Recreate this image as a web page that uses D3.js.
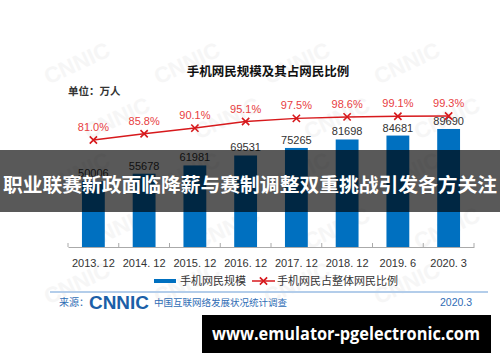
<!DOCTYPE html>
<html>
<head>
<meta charset="utf-8">
<script src="https://cdn.jsdelivr.net/npm/d3@7"></script>
<style>
  body { margin: 0; background: #fff; }
  svg { display: block; }
  text { font-family: "Liberation Sans", Arial, "Noto Sans CJK SC", sans-serif; }
  .cjk { font-family: "Noto Sans CJK SC", "Liberation Sans", sans-serif; }
</style>
</head>
<body>
<script>
// chart data
var periods = ["2013. 12", "2014. 12", "2015. 12", "2016. 12", "2017. 12", "2018. 12", "2019. 6", "2020. 3"];
var mobileUsers = [50006, 55678, 61981, 69531, 75265, 81698, 84681, 89690];
var mobileShare = [81.0, 85.8, 90.1, 95.1, 97.5, 98.6, 99.1, 99.3];

var width = 500, height = 362;
var baseY = 247;

var svg = d3.select("body").append("svg")
    .attr("width", width)
    .attr("height", height);

svg.append("rect").attr("width", width).attr("height", height).attr("fill", "#fff");

// faint CNNIC watermarks in the background
var marks = [];
for (var r = 0; r < 5; r++) {
  for (var c = 0; c < 4; c++) {
    marks.push([80 + c * 110 + (r % 2) * 40, 70 + r * 55]);
  }
}
svg.append("g").selectAll("text")
  .data(marks)
  .enter().append("text")
    .attr("transform", function(d) { return "translate(" + d[0] + "," + d[1] + ") rotate(-25)"; })
    .attr("text-anchor", "middle")
    .style("font-size", "22px")
    .style("font-weight", "bold")
    .style("fill", "#f6f6f6")
    .text("CNNIC");

// scales
var x = d3.scaleBand()
    .domain(periods)
    .range([68, 474])
    .paddingInner(0.55)
    .paddingOuter(0.275);

var y = d3.scaleLinear().domain([0, 100000]).range([baseY, baseY - 131.6]);
var yp = d3.scaleLinear().domain([80, 100]).range([141.3, 115.1]);

// title
svg.append("text")
    .attr("class", "cjk")
    .attr("x", 268).attr("y", 75.5)
    .attr("text-anchor", "middle")
    .style("font-size", "12.5px")
    .style("font-weight", "bold")
    .style("fill", "#111")
    .text("手机网民规模及其占网民比例");

svg.append("text")
    .attr("class", "cjk")
    .attr("x", 68).attr("y", 95)
    .style("font-size", "10.5px")
    .style("font-weight", "600")
    .style("fill", "#333")
    .text("单位：万人");

// bars
svg.append("g").selectAll("rect")
  .data(mobileUsers)
  .enter().append("rect")
    .attr("x", function(d, i) { return x(periods[i]); })
    .attr("y", function(d) { return y(d); })
    .attr("width", x.bandwidth())
    .attr("height", function(d) { return baseY - y(d); })
    .attr("fill", "#0070c0");

// bar values
svg.append("g").selectAll("text")
  .data(mobileUsers)
  .enter().append("text")
    .attr("x", function(d, i) { return x(periods[i]) + x.bandwidth() / 2; })
    .attr("y", function(d) { return y(d) - 4; })
    .attr("text-anchor", "middle")
    .style("font-size", "11px")
    .style("fill", "#333")
    .text(function(d) { return d; });

// x axis
var xAxis = svg.append("g")
    .attr("transform", "translate(0," + baseY + ")")
    .call(d3.axisBottom(x).tickSize(0).tickPadding(12));
xAxis.select(".domain").attr("stroke", "#aaa");
xAxis.selectAll("text")
    .style("font-size", "11px")
    .style("fill", "#333")
    .style("font-family", "Liberation Sans, Arial, sans-serif");

// boundary ticks between categories
var step = x.step();
var bounds = d3.range(periods.length + 1).map(function(i) { return x.range()[0] + i * step; });
svg.append("g").selectAll("line")
  .data(bounds)
  .enter().append("line")
    .attr("x1", function(d) { return d; })
    .attr("x2", function(d) { return d; })
    .attr("y1", baseY - 4)
    .attr("y2", baseY)
    .attr("stroke", "#aaa");

// share line
var line = d3.line()
    .x(function(d, i) { return x(periods[i]) + x.bandwidth() / 2; })
    .y(function(d) { return yp(d); });

svg.append("path")
    .datum(mobileShare)
    .attr("d", line)
    .attr("fill", "none")
    .attr("stroke", "#d7191c")
    .attr("stroke-width", 1.5);

var cross = d3.symbol().type(d3.symbolX).size(36);
svg.append("g").selectAll("path")
  .data(mobileShare)
  .enter().append("path")
    .attr("transform", function(d, i) {
      return "translate(" + (x(periods[i]) + x.bandwidth() / 2) + "," + yp(d) + ")";
    })
    .attr("d", cross)
    .attr("fill", "none")
    .attr("stroke", "#d7191c")
    .attr("stroke-width", 1.6);

svg.append("g").selectAll("text")
  .data(mobileShare)
  .enter().append("text")
    .attr("x", function(d, i) { return x(periods[i]) + x.bandwidth() / 2; })
    .attr("y", function(d) { return yp(d) - 9; })
    .attr("text-anchor", "middle")
    .style("font-size", "11px")
    .style("fill", "#e8403f")
    .text(function(d) { return d.toFixed(1) + "%"; });

// legend
svg.append("line")
    .attr("x1", 154).attr("x2", 176).attr("y1", 281).attr("y2", 281)
    .attr("stroke", "#0070c0").attr("stroke-width", 4);
svg.append("text")
    .attr("class", "cjk")
    .attr("x", 180).attr("y", 285)
    .style("font-size", "11px")
    .style("fill", "#333")
    .text("手机网民规模");

svg.append("line")
    .attr("x1", 252).attr("x2", 275).attr("y1", 281).attr("y2", 281)
    .attr("stroke", "#d7191c").attr("stroke-width", 1.5);
svg.append("path")
    .attr("transform", "translate(263.5,281)")
    .attr("d", cross)
    .attr("fill", "none")
    .attr("stroke", "#d7191c")
    .attr("stroke-width", 1.6);
svg.append("text")
    .attr("class", "cjk")
    .attr("x", 277).attr("y", 285)
    .style("font-size", "11px")
    .style("fill", "#333")
    .text("手机网民占整体网民比例");

// source footer
svg.append("line")
    .attr("x1", 50).attr("x2", 488).attr("y1", 292).attr("y2", 292)
    .attr("stroke", "#b3cdea").attr("stroke-width", 2);

svg.append("text")
    .attr("class", "cjk")
    .attr("x", 59).attr("y", 306)
    .style("font-size", "10px")
    .style("fill", "#2f6db5")
    .text("来源：");
svg.append("text")
    .attr("x", 89).attr("y", 309)
    .style("font-size", "19px")
    .style("font-weight", "bold")
    .style("fill", "#1b5fa8")
    .attr("textLength", 60)
    .attr("lengthAdjust", "spacingAndGlyphs")
    .text("CNNIC");
svg.append("text")
    .attr("class", "cjk")
    .attr("x", 154).attr("y", 306)
    .style("font-size", "9.5px")
    .style("fill", "#2f6db5")
    .text("中国互联网络发展状况统计调查");
svg.append("text")
    .attr("x", 440).attr("y", 306)
    .style("font-size", "10.5px")
    .style("fill", "#2f6db5")
    .text("2020.3");

// headline banner over the chart
svg.append("rect")
    .attr("x", 0).attr("y", 150)
    .attr("width", width).attr("height", 62)
    .attr("fill", "#000")
    .attr("opacity", 0.65);
svg.append("text")
    .attr("class", "cjk")
    .attr("x", 250).attr("y", 192)
    .attr("text-anchor", "middle")
    .attr("textLength", 494)
    .attr("lengthAdjust", "spacingAndGlyphs")
    .style("font-size", "19.8px")
    .style("font-weight", "bold")
    .style("fill", "#fff")
    .text("职业联赛新政面临降薪与赛制调整双重挑战引发各方关注");

// site label
svg.append("rect")
    .attr("x", 202).attr("y", 315)
    .attr("width", 289).attr("height", 38)
    .attr("fill", "#000");
svg.append("text")
    .attr("x", 212).attr("y", 340)
    .attr("textLength", 268)
    .attr("lengthAdjust", "spacingAndGlyphs")
    .style("font-family", "Open Sans, sans-serif")
    .style("font-size", "17px")
    .style("font-weight", "bold")
    .style("fill", "#fff")
    .text("www.emulator-pgelectronic.com");
</script>
</body>
</html>
